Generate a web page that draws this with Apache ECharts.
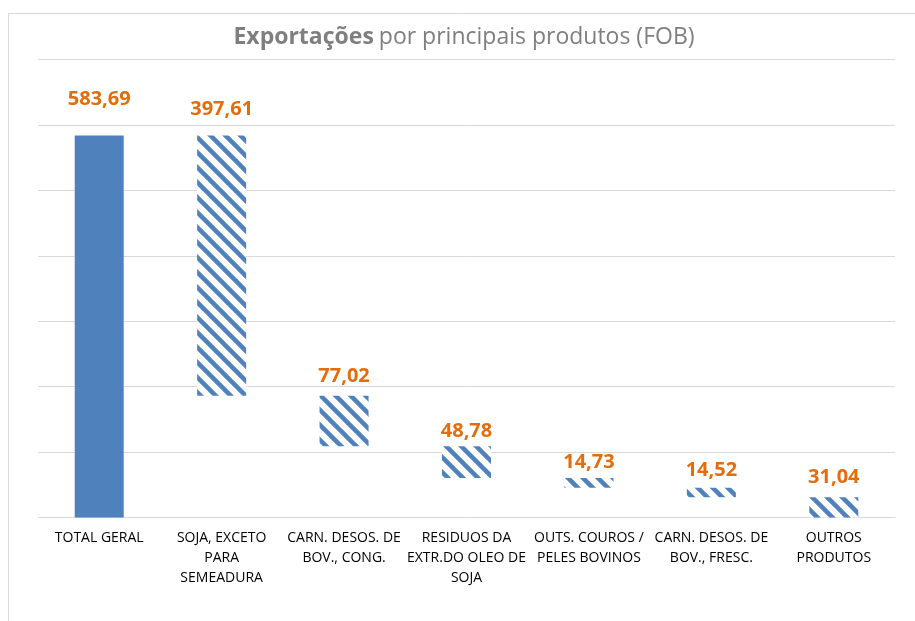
<!DOCTYPE html>
<html>
<head>
<meta charset="utf-8">
<script src="https://cdn.jsdelivr.net/npm/echarts@6/dist/echarts.min.js"></script>
<style>
html,body{margin:0;padding:0;background:#fff;}
#chart{width:915px;height:621px;}
</style>
</head>
<body>
<div id="chart"></div>
<script>
// ---- data ----
const categories = [
  'TOTAL GERAL',
  'SOJA, EXCETO\nPARA\nSEMEADURA',
  'CARN. DESOS. DE\nBOV., CONG.',
  'RESIDUOS DA\nEXTR.DO OLEO DE\nSOJA',
  'OUTS. COUROS /\nPELES BOVINOS',
  'CARN. DESOS. DE\nBOV., FRESC.',
  'OUTROS\nPRODUTOS'
];
const values = [583.69, 397.61, 77.02, 48.78, 14.73, 14.52, 31.04];
const yTicks = [0, 100, 200, 300, 400, 500, 600, 700];

// ---- style ----
const labelGap = [26.5, 16.5, 9.5, 4.5, 6, 7, 10];
const BLUE = '#4F81BD';
const ORANGE = '#E46C0A';

function makePattern() {
  const s = 15;
  const c = document.createElement('canvas');
  c.width = s; c.height = s;
  const ctx = c.getContext('2d');
  ctx.fillStyle = '#fff';
  ctx.fillRect(0, 0, s, s);
  ctx.strokeStyle = BLUE;
  ctx.lineWidth = 4.5;
  for (let k = -1; k <= 1; k++) {
    ctx.beginPath();
    ctx.moveTo(k * s - 3, -3);
    ctx.lineTo(k * s + s + 3, s + 3);
    ctx.stroke();
  }
  return c;
}
const pattern = { image: makePattern(), repeat: 'repeat' };

// waterfall bases computed from the values
const bases = [];
let running = values[0];
for (let i = 0; i < values.length; i++) {
  if (i === 0) { bases.push(0); continue; }
  running -= values[i];
  bases.push(Math.max(0, running));
}
const fmt = v => v.toFixed(2).replace('.', ',');

const chart = echarts.init(document.getElementById('chart'), null, { renderer: 'canvas' });
chart.setOption({
  animation: false,
  backgroundColor: '#fff',
  title: {
    text: '{b|Exportações} {n|por principais produtos (FOB)}',
    left: 459,
    top: 21,
    textAlign: 'center',
    textStyle: {
      rich: {
        b: { fontFamily: 'Open Sans', fontSize: 23, fontWeight: 'bold', color: '#7F7F7F' },
        n: { fontFamily: 'Open Sans', fontSize: 23, fontWeight: 'normal', color: '#7F7F7F' }
      }
    }
  },
  graphic: [{
    type: 'rect',
    shape: { x: 8.5, y: 13.5, width: 1000, height: 1000 },
    style: { fill: 'none', stroke: '#D9D9D9', lineWidth: 1 },
    silent: true,
    z: -1
  }],
  grid: { left: 38, right: 20, top: 59.5, bottom: 103.5, containLabel: false },
  xAxis: {
    type: 'category',
    data: categories,
    axisTick: { show: false },
    axisLine: { lineStyle: { color: '#D9D9D9', width: 1 } },
    axisLabel: {
      interval: 0,
      margin: 11,
      color: '#000',
      fontFamily: 'Open Sans',
      fontSize: 14,
      lineHeight: 20,
      align: 'center'
    }
  },
  yAxis: {
    type: 'value',
    min: yTicks[0],
    max: yTicks[yTicks.length - 1],
    interval: yTicks[1] - yTicks[0],
    axisLabel: { show: false },
    axisLine: { show: false },
    axisTick: { show: false },
    splitLine: { show: true, showMinLine: true, showMaxLine: true, lineStyle: { color: '#D9D9D9', width: 1 } }
  },
  series: [
    {
      type: 'bar',
      stack: 'w',
      data: bases,
      itemStyle: { color: 'transparent' },
      barWidth: 49,
      silent: true
    },
    {
      type: 'bar',
      stack: 'w',
      barWidth: 49,
      data: values.map((v, i) => ({
        value: v,
        itemStyle: { color: i === 0 ? BLUE : pattern },
        label: { distance: labelGap[i] }
      })),
      label: {
        show: true,
        position: 'top',
        color: ORANGE,
        fontFamily: 'Open Sans',
        fontWeight: 'bold',
        fontSize: 20,
        formatter: p => fmt(p.value)
      }
    }
  ]
});
</script>
</body>
</html>
